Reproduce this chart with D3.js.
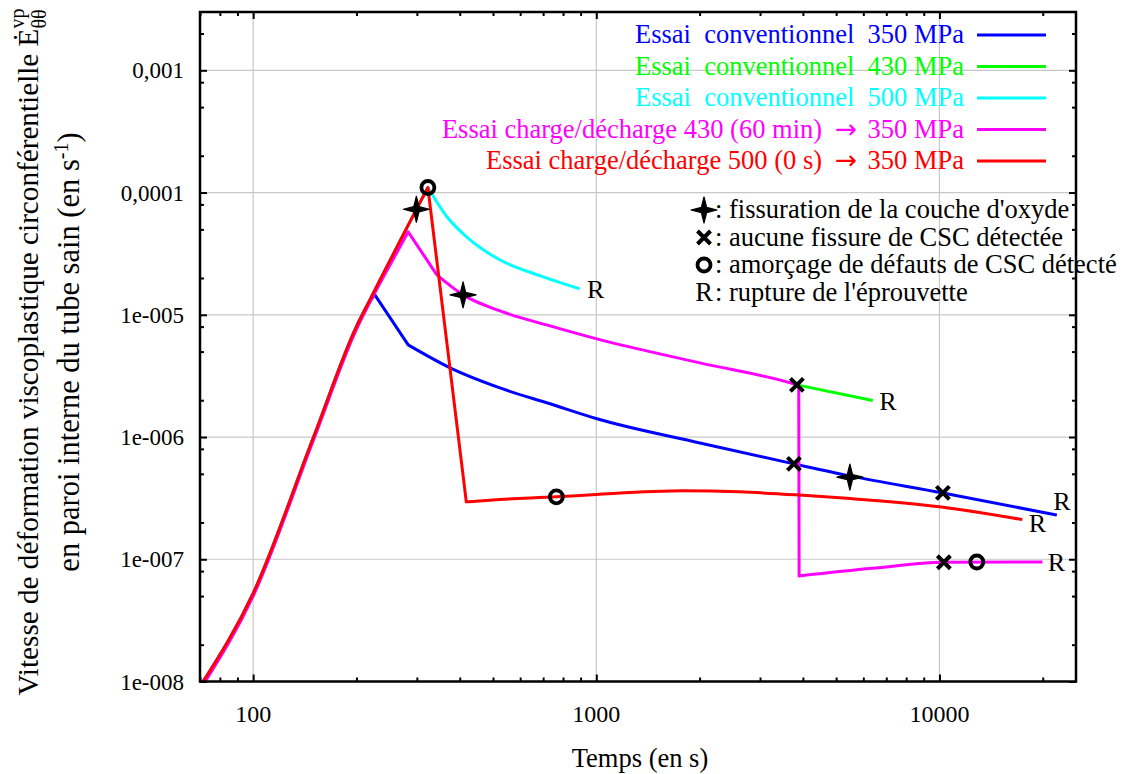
<!DOCTYPE html>
<html><head><meta charset="utf-8">
<script src="https://cdn.jsdelivr.net/npm/d3@7"></script>
<style>
body{margin:0;background:#fff;}
text{font-family:"Liberation Serif","Times New Roman",serif;}
</style></head><body>
<svg id="c" width="1125" height="774"></svg>
<script>
// ---------- DATA (time in s, rate in s^-1) ----------
const blue350 = [[71.5,1e-8],[100,5.26e-8],[150,1.0e-6],[200,8.0e-6],[214,1.17e-5],[226,1.46e-5],[283,5.67e-6],[375,3.68e-6],[524,2.52e-6],[733,1.87e-6],[1004,1.41e-6],[2004,8.95e-7],[3766,6.03e-7],[5483,4.81e-7],[10233,3.49e-7],[21988,2.3e-7]];
const green430 = [[3842,2.67e-6],[6395,1.99e-6]];
const cyan500 = [[71.5,1e-8],[100,5.26e-8],[150,1.0e-6],[200,8.0e-6],[214,1.17e-5],[323,1.1e-4],[366,6.4e-5],[428,4.12e-5],[523,2.82e-5],[684,2.09e-5],[895,1.63e-5]];
const magenta430to350 = [[72.5,1e-8],[100,5.0e-8],[150,9.5e-7],[200,7.6e-6],[214,1.12e-5],[265,3.41e-5],[283,4.77e-5],[343,2.12e-5],[409,1.455e-5],[524,1.076e-5],[733,8.11e-6],[1004,6.35e-6],[2004,4.04e-6],[3842,2.67e-6],[3890,2.64e-6],[3900,7.3e-8],[6380,8.43e-8],[10300,9.45e-8],[19950,9.5e-8]];
const red500to350 = [[71.5,1e-8],[100,5.26e-8],[150,1.0e-6],[200,8.0e-6],[214,1.17e-5],[323,1.1e-4],[418,2.95e-7],[523,3.08e-7],[765,3.24e-7],[1000,3.39e-7],[1785,3.63e-7],[2614,3.56e-7],[3908,3.35e-7],[5380,3.15e-7],[9995,2.69e-7],[17440,2.11e-7]];

const seriesLabels = ["Essai\u00a0 conventionnel\u00a0 350 MPa","Essai\u00a0 conventionnel\u00a0 430 MPa","Essai\u00a0 conventionnel\u00a0 500 MPa","Essai charge/décharge 430 (60 min) \u2192 350 MPa","Essai charge/décharge 500 (0 s) \u2192 350 MPa"];
const seriesColors = ["#0000ff","#00ff00","#00ffff","#ff00ff","#ff0000"];

const oxideCracking = [[299,7.3e-5],[409,1.455e-5],[5483,4.7e-7]];
const noSccCrack = [[3842,2.67e-6],[3766,6.03e-7],[10233,3.49e-7],[10300,9.45e-8]];
const sccInitiation = [[323,1.1e-4],[765,3.24e-7],[12850,9.5e-8]];
const rupture = [[895,1.63e-5],[6395,1.99e-6],[21988,2.3e-7],[17440,2.11e-7],[19950,9.5e-8]];
const markerLabels = ["fissuration de la couche d'oxyde","aucune fissure de CSC détectée","amorçage de défauts de CSC détecté","rupture de l'éprouvette"];

const xTickValues = [100,1000,10000];
const xTickLabels = ["100","1000","10000"];
const yTickValues = [1e-8,1e-7,1e-6,1e-5,1e-4,1e-3];
const yTickLabels = ["1e-008","1e-007","1e-006","1e-005","0,0001","0,001"];
const xTitle = "Temps (en s)";
const yTitle1 = "Vitesse de déformation viscoplastique circonférentielle ";
const yTitle2 = "en paroi interne du tube sain (en s";

// ---------- LAYOUT ----------
const L=200,R=1076,T=12,B=681.5;
const x=d3.scaleLog().domain([70,25000]).range([L,R]);
const y=d3.scaleLog().domain([1e-8,3e-3]).range([B,T]);
const svg=d3.select("#c");

// grid
const g=svg.append("g");
g.selectAll(".gx").data(xTickValues).join("line").attr("x1",d=>x(d)).attr("x2",d=>x(d)).attr("y1",T).attr("y2",B).attr("stroke","#c8c8c8").attr("stroke-width",1.2);
g.selectAll(".gy").data(yTickValues).join("line").attr("y1",d=>y(d)).attr("y2",d=>y(d)).attr("x1",L).attr("x2",R).attr("stroke","#c8c8c8").attr("stroke-width",1.2);

// minor tick values
const xMinor=[], yMinor=[];
for(let e=1;e<=4;e++) for(let m=2;m<=9;m++){const v=m*Math.pow(10,e); if(v>=70&&v<=25000) xMinor.push(v);}
for(let e=-8;e<=-3;e++) for(const m of [2,5,8]){const v=m*Math.pow(10,e); if(v<=3e-3) yMinor.push(v);}

function axisStyle(sel){sel.select(".domain").remove(); sel.selectAll("line").attr("stroke","#000").attr("stroke-width",2);}
svg.append("g").attr("transform",`translate(0,${B})`).call(d3.axisBottom(x).tickValues(xMinor).tickSize(-4).tickFormat("")).call(axisStyle);
svg.append("g").attr("transform",`translate(0,${T})`).call(d3.axisTop(x).tickValues(xMinor).tickSize(-4).tickFormat("")).call(axisStyle);
svg.append("g").attr("transform",`translate(0,${B})`).call(d3.axisBottom(x).tickValues(xTickValues).tickSize(-7).tickFormat("")).call(axisStyle);
svg.append("g").attr("transform",`translate(0,${T})`).call(d3.axisTop(x).tickValues(xTickValues).tickSize(-7).tickFormat("")).call(axisStyle);
svg.append("g").attr("transform",`translate(${L},0)`).call(d3.axisLeft(y).tickValues(yMinor).tickSize(-4).tickFormat("")).call(axisStyle);
svg.append("g").attr("transform",`translate(${R},0)`).call(d3.axisRight(y).tickValues(yMinor).tickSize(-4).tickFormat("")).call(axisStyle);
svg.append("g").attr("transform",`translate(${L},0)`).call(d3.axisLeft(y).tickValues(yTickValues).tickSize(-7).tickFormat("")).call(axisStyle);
svg.append("g").attr("transform",`translate(${R},0)`).call(d3.axisRight(y).tickValues(yTickValues).tickSize(-7).tickFormat("")).call(axisStyle);

// tick labels
svg.append("g").selectAll("text").data(xTickValues).join("text")
  .attr("x",d=>x(d)).attr("y",722).attr("text-anchor","middle").attr("font-size",24).attr("fill","#000")
  .text((d,i)=>xTickLabels[i]);
svg.append("g").selectAll("text").data(yTickValues).join("text")
  .attr("x",184).attr("y",d=>y(d)+8).attr("text-anchor","end").attr("font-size",23).attr("fill","#000")
  .text((d,i)=>yTickLabels[i]);

// clip
svg.append("clipPath").attr("id","clip").append("rect").attr("x",L).attr("y",T).attr("width",R-L).attr("height",B-T);

// lines: split at sharp corners, smooth inside each piece
function smoothPath(s){
  const p=s.map(d=>[x(d[0]),y(d[1])]);
  const pieces=[]; let cur=[p[0]];
  for(let i=1;i<p.length;i++){
    cur.push(p[i]);
    if(i<p.length-1){
      const a1=Math.atan2(p[i][1]-p[i-1][1],p[i][0]-p[i-1][0]);
      const a2=Math.atan2(p[i+1][1]-p[i][1],p[i+1][0]-p[i][0]);
      let da=Math.abs(a2-a1)*180/Math.PI; if(da>180) da=360-da;
      if(da>17){pieces.push(cur); cur=[p[i]];}
    }
  }
  pieces.push(cur);
  const ln=d3.line().curve(d3.curveMonotoneX);
  return pieces.map((pc,k)=>{const d=ln(pc); return k===0?d:d.replace(/^M[^LC]*/,"L"+pc[0][0]+","+pc[0][1]);}).join("");
}
const allSeries=[blue350,green430,cyan500,magenta430to350,red500to350];
const lg=svg.append("g").attr("clip-path","url(#clip)");
allSeries.forEach((s,i)=>{
  lg.append("path").datum(s).attr("d",smoothPath).attr("fill","none").attr("stroke",seriesColors[i]).attr("stroke-width",3).attr("stroke-linejoin","round");
});

// frame
svg.append("rect").attr("x",L).attr("y",T).attr("width",R-L).attr("height",B-T).attr("fill","none").attr("stroke","#000").attr("stroke-width",2.5);

// marker shapes
const starPath="M0,-13 L2.6,-2.6 L13,0 L2.6,2.6 L0,13 L-2.6,2.6 L-13,0 L-2.6,-2.6 Z";
function drawStar(sel){sel.append("path").attr("d",starPath).attr("fill","#000").attr("stroke","#000").attr("stroke-width",1.2).attr("stroke-linejoin","round");}
function drawX(sel){sel.append("path").attr("d","M-6.5,-6.5L6.5,6.5M-6.5,6.5L6.5,-6.5").attr("stroke","#000").attr("stroke-width",4).attr("fill","none");}
function drawO(sel){sel.append("circle").attr("r",6.5).attr("fill","none").attr("stroke","#000").attr("stroke-width",3.8);}

const mg=svg.append("g");
mg.selectAll(".st").data(oxideCracking).join("g").attr("transform",d=>`translate(${x(d[0])},${y(d[1])})`).each(function(){drawStar(d3.select(this));});
mg.selectAll(".xx").data(noSccCrack).join("g").attr("transform",d=>`translate(${x(d[0])},${y(d[1])})`).each(function(){drawX(d3.select(this));});
mg.selectAll(".oo").data(sccInitiation).join("g").attr("transform",d=>`translate(${x(d[0])},${y(d[1])})`).each(function(){drawO(d3.select(this));});
const rOff=[[16,9],[15,10],[5,-5],[15,12],[14,9]];
mg.selectAll(".rr").data(rupture).join("text").attr("x",(d,i)=>x(d[0])+rOff[i][0]).attr("y",(d,i)=>y(d[1])+rOff[i][1])
  .attr("text-anchor","middle").attr("font-size",26).attr("fill","#000").text("R");

// series legend
const leg=svg.append("g");
seriesLabels.forEach((lab,i)=>{
  const yy=35+i*31.5;
  leg.append("line").attr("x1",977).attr("x2",1046).attr("y1",yy).attr("y2",yy).attr("stroke",seriesColors[i]).attr("stroke-width",3);
  const t=leg.append("text").attr("x",964).attr("y",yy+8).attr("text-anchor","end").attr("font-size",26.5).attr("fill",seriesColors[i]);
  const parts=lab.split("\u2192");
  t.append("tspan").text(parts[0]);
  if(parts.length>1){
    t.append("tspan").attr("dx",6).attr("font-family","'DejaVu Sans',sans-serif").text("\u2192");
    t.append("tspan").attr("dx",4).text(parts[1]);
  }
});

// marker legend
const ml=svg.append("g");
const mlY=[210,237.5,265,292.5];
const mlX=704;
drawStar(ml.append("g").attr("transform",`translate(${mlX},${mlY[0]})`));
drawX(ml.append("g").attr("transform",`translate(${mlX},${mlY[1]})`));
drawO(ml.append("g").attr("transform",`translate(${mlX},${mlY[2]})`));
ml.append("text").attr("x",mlX).attr("y",mlY[3]+8).attr("text-anchor","middle").attr("font-size",26.5).text("R");
markerLabels.forEach((lab,i)=>{
  ml.append("text").attr("x",mlX+11).attr("y",mlY[i]+8).attr("font-size",26.5).attr("fill","#000").text(": "+lab);
});

// axis titles
svg.append("text").attr("x",640).attr("y",767).attr("text-anchor","middle").attr("font-size",26.5).text(xTitle);
const yt1=svg.append("text").attr("transform","translate(38,352) rotate(-90)").attr("text-anchor","middle").attr("font-size",29.2);
yt1.append("tspan").text(yTitle1);
yt1.append("tspan").text("\u0116");
yt1.append("tspan").attr("font-size",20).attr("dy",-14).text("vp");
yt1.append("tspan").attr("font-size",20).attr("dx",-20).attr("dy",22).text("\u03b8\u03b8");
const yt2=svg.append("text").attr("transform","translate(79,352) rotate(-90)").attr("text-anchor","middle").attr("font-size",30.5);
yt2.append("tspan").text(yTitle2);
yt2.append("tspan").attr("font-size",20).attr("dy",-11).text("-1");
yt2.append("tspan").attr("dy",11).text(")");
</script>
</body></html>
